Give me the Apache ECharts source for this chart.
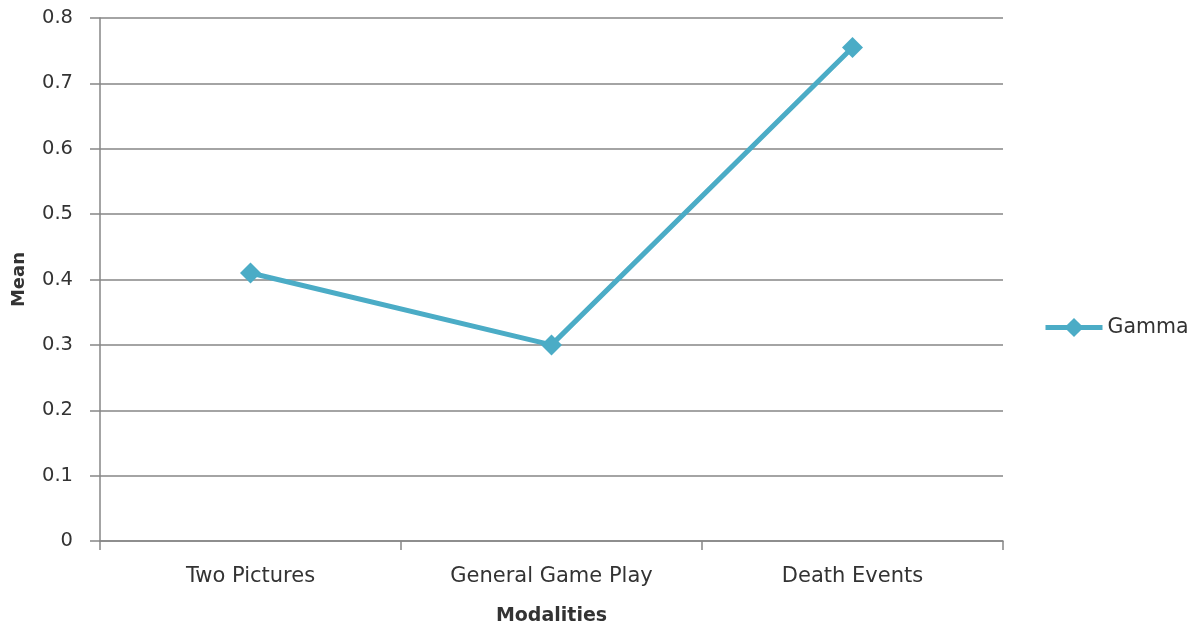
<!DOCTYPE html>
<html>
<head>
<meta charset="utf-8">
<script src="https://cdn.jsdelivr.net/npm/echarts@6/dist/echarts.min.js"></script>
<style>html,body{margin:0;padding:0;background:#fff}#c{width:1198px;height:631px}</style>
</head>
<body>
<div id="c"></div>
<script>
const categories = ['Two Pictures', 'General Game Play', 'Death Events'];
const gammaValues = [0.41, 0.3, 0.755];
const seriesName = 'Gamma';
const xTitle = 'Modalities';
const yTitle = 'Mean';

const chart = echarts.init(document.getElementById('c'));
const font = '"DejaVu Sans", "Open Sans", sans-serif';
chart.setOption({
  animation: false,
  grid: { left: 100, right: 195, top: 18, bottom: 90, outerBoundsMode: 'none', containLabel: false },
  legend: {
    data: [seriesName],
    left: 1043, top: 317,
    padding: 0,
    orient: 'vertical',
    itemWidth: 57, itemHeight: 24, itemGap: 4,
    lineStyle: { width: 5 },
    textStyle: { fontFamily: font, fontSize: 20.5, color: '#333' }
  },
  xAxis: {
    type: 'category',
    data: categories,
    boundaryGap: true,
    name: xTitle,
    nameLocation: 'middle',
    nameGap: 66,
    nameTextStyle: { fontFamily: font, fontSize: 19, fontWeight: 'bold', color: '#333' },
    axisLine: { lineStyle: { color: '#868686', width: 1.5 } },
    axisTick: { show: true, length: 9, lineStyle: { color: '#868686', width: 1.5 } },
    axisLabel: { fontFamily: font, fontSize: 21, color: '#333', margin: 25 }
  },
  yAxis: {
    type: 'value',
    min: 0, max: 0.8, interval: 0.1,
    name: yTitle,
    nameLocation: 'middle',
    nameGap: 72,
    nameTextStyle: { fontFamily: font, fontSize: 18, fontWeight: 'bold', color: '#333' },
    axisLine: { show: true, lineStyle: { color: '#868686', width: 1.5 } },
    axisTick: { show: true, length: 10, inside: false, lineStyle: { color: '#868686', width: 1.5 } },
    splitLine: { show: true, lineStyle: { color: '#868686', width: 1.5 } },
    axisLabel: { fontFamily: font, fontSize: 19.5, color: '#333', margin: 27,
      formatter: v => (Math.round(v*10)/10).toString() }
  },
  series: [{
    name: seriesName,
    type: 'line',
    data: gammaValues,
    symbol: 'diamond',
    symbolSize: 21,
    color: '#4bacc6',
    lineStyle: { width: 5, color: '#4bacc6' },
    itemStyle: { color: '#4bacc6' }
  }]
});
</script>
</body>
</html>
